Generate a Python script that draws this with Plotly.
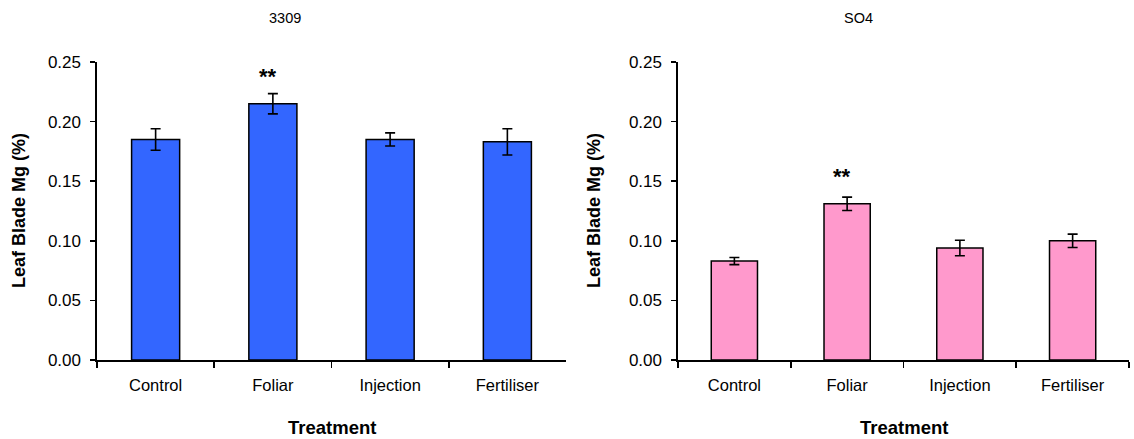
import plotly.graph_objects as go

categories = ["Control", "Foliar", "Injection", "Fertiliser"]
vals_3309 = [0.185, 0.215, 0.185, 0.183]
err_3309 = [0.009, 0.0085, 0.0055, 0.011]
vals_so4 = [0.083, 0.131, 0.094, 0.100]
err_so4 = [0.003, 0.0056, 0.0065, 0.0056]
panel_titles = ["3309", "SO4"]
y_ticks = [0.00, 0.05, 0.10, 0.15, 0.20, 0.25]
signif = ["", "**", "", ""]

W, H = 1134, 439
FONT = "Liberation Sans, Arial, sans-serif"

def px_x(p):
    return p / W

def px_y(p):
    return 1 - p / H

fig = go.Figure()

panels = [
    dict(vals=vals_3309, err=err_3309, color="#3366FF", xd=(97, 566), xa="x", ya="y",
         title_x=285, ytitle_x=19, star_shift=17),
    dict(vals=vals_so4, err=err_so4, color="#FF99CC", xd=(678, 1129), xa="x2", ya="y2",
         title_x=858, ytitle_x=594, star_shift=21),
]

for p in panels:
    fig.add_trace(go.Bar(
        x=categories, y=p["vals"], width=0.41,
        marker=dict(color=p["color"], line=dict(color="black", width=1.5)),
        error_y=dict(type="data", array=p["err"], visible=True, color="black",
                     thickness=1.6, width=5),
        xaxis=p["xa"], yaxis=p["ya"], showlegend=False, hoverinfo="skip",
    ))
    for c, v, e, s in zip(categories, p["vals"], p["err"], signif):
        if s:
            fig.add_annotation(x=c, y=v + e, xref=p["xa"], yref=p["ya"], text="<b>" + s + "</b>",
                               showarrow=False, yanchor="middle", xanchor="center",
                               yshift=p["star_shift"], xshift=-5,
                               font=dict(family=FONT, size=22, color="black"))

axis_common_x = dict(showline=True, linecolor="black", linewidth=1.6, ticks="outside",
                     ticklen=6, tickwidth=1.6, tickcolor="black", tickson="boundaries",
                     showgrid=False, zeroline=False, type="category", automargin=False,
                     ticklabelstandoff=10,
                     tickfont=dict(family=FONT, size=16.5, color="black"), fixedrange=True)
axis_common_y = dict(showline=True, linecolor="black", linewidth=1.6, ticks="outside",
                     ticklen=5, tickwidth=1.6, tickcolor="black", range=[0, 0.25],
                     tickvals=y_ticks, tickformat=".2f", showgrid=False, zeroline=False,
                     automargin=False, ticklabelstandoff=6,
                     tickfont=dict(family=FONT, size=17, color="black"), fixedrange=True)

ydom = [px_y(360), px_y(62)]
fig.update_layout(
    width=W, height=H, margin=dict(l=0, r=0, t=0, b=0, pad=0, autoexpand=False),
    plot_bgcolor="white", paper_bgcolor="white",
    xaxis=dict(domain=[px_x(panels[0]["xd"][0]), px_x(panels[0]["xd"][1])], anchor="y", **axis_common_x),
    yaxis=dict(domain=ydom, anchor="x", **axis_common_y),
    xaxis2=dict(domain=[px_x(panels[1]["xd"][0]), px_x(panels[1]["xd"][1])], anchor="y2", **axis_common_x),
    yaxis2=dict(domain=ydom, anchor="x2", **axis_common_y),
)

for p, t in zip(panels, panel_titles):
    cx = (p["xd"][0] + p["xd"][1]) / 2
    fig.add_annotation(x=px_x(p["title_x"]), y=px_y(18), xref="paper", yref="paper",
                       xanchor="center", yanchor="middle",
                       text=t, showarrow=False, font=dict(family=FONT, size=14.5, color="black"))
    fig.add_annotation(x=px_x(p["ytitle_x"]), y=px_y(211), xref="paper", yref="paper",
                       xanchor="center", yanchor="middle",
                       text="<b>Leaf Blade Mg (%)</b>", textangle=-90, showarrow=False,
                       font=dict(family=FONT, size=18, color="black"))
    fig.add_annotation(x=px_x(cx), y=px_y(427), xref="paper", yref="paper",
                       xanchor="center", yanchor="middle",
                       text="<b>Treatment</b>", showarrow=False,
                       font=dict(family=FONT, size=18.5, color="black"))

fig.write_html("out.html", config={"displayModeBar": False, "staticPlot": True},
               post_script="document.body.style.margin='0';document.body.style.overflow='hidden';")
